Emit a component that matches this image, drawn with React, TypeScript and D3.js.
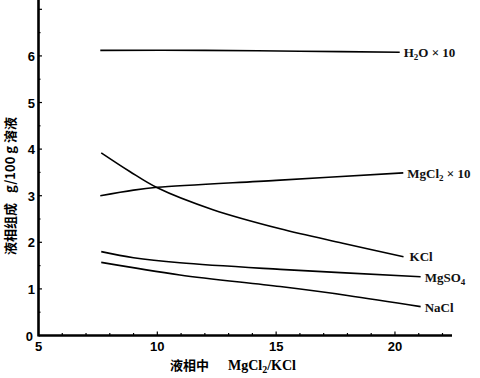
import React from "react";
import * as d3 from "d3";

const xTicks = [5, 10, 15, 20];
const yTicks = [0, 1, 2, 3, 4, 5, 6];

const h2oX = [7.6, 12, 16, 20.2];
const h2oY = [6.12, 6.12, 6.1, 6.08];

const mgcl2X = [7.6, 9, 10, 15, 20.35];
const mgcl2Y = [3.0, 3.12, 3.18, 3.33, 3.49];

const kclX = [7.64, 8.84, 10, 12.34, 15.17, 17.8, 20.36];
const kclY = [3.92, 3.52, 3.17, 2.7, 2.29, 1.98, 1.69];

const mgso4X = [7.64, 9, 10.95, 15.17, 21.08];
const mgso4Y = [1.8, 1.67, 1.56, 1.42, 1.26];

const naclX = [7.64, 10.95, 15.17, 18, 21.08];
const naclY = [1.57, 1.3, 1.05, 0.86, 0.62];

const series = [
  { xs: h2oX, ys: h2oY },
  { xs: mgcl2X, ys: mgcl2Y },
  { xs: kclX, ys: kclY },
  { xs: mgso4X, ys: mgso4Y },
  { xs: naclX, ys: naclY },
];

export default function App() {
  const W = 480, H = 378;
  const x = d3.scaleLinear().domain([5, 22.4]).range([38.5, 452]);
  const y = d3.scaleLinear().domain([0, 7.2]).range([335.5, 0]);
  const line = d3
    .line<[number, number]>()
    .x((d) => x(d[0]))
    .y((d) => y(d[1]))
    .curve(d3.curveCatmullRom.alpha(0.5));

  const minorX = d3.range(6, 23, 1);
  const minorY = d3.range(0.5, 7.1, 0.5);
  const tickFont = "'Liberation Sans', Arial, sans-serif";
  const serif = "'Liberation Serif', 'DejaVu Serif', serif";
  const cjk = "'Noto Sans CJK SC', sans-serif";

  const labelY = (v: number) => y(v);

  return (
    <div style={{ position: "absolute", left: 0, top: 0 }}>
      <svg width={W} height={H} style={{ display: "block", background: "#fff" }}>
        {/* axes */}
        <line x1={x(5)} x2={x(22.4)} y1={y(0)} y2={y(0)} stroke="#000" strokeWidth={2.6} />
        <line x1={x(5)} x2={x(5)} y1={y(0) + 1} y2={0} stroke="#000" strokeWidth={2.6} />
        {minorX.map((v) => (
          <line key={"mx" + v} x1={x(v)} x2={x(v)} y1={y(0)} y2={y(0) - (v % 5 === 0 ? 4 : 2.5)} stroke="#000" strokeWidth={1.2} />
        ))}
        {minorY.map((v) => (
          <line key={"my" + v} x1={x(5)} x2={x(5) + (Number.isInteger(v) ? 3.5 : 2)} y1={y(v)} y2={y(v)} stroke="#000" strokeWidth={1.2} />
        ))}
        {xTicks.map((v) => (
          <text key={"xt" + v} x={x(v)} y={351} textAnchor="middle" fontFamily={tickFont} fontWeight="bold" fontSize={13}>
            {v}
          </text>
        ))}
        {yTicks.map((v) => (
          <text key={"yt" + v} x={v === 0 ? 33 : 35} y={y(v) + 5} textAnchor="end" fontFamily={tickFont} fontWeight="bold" fontSize={13}>
            {v}
          </text>
        ))}
        {/* series */}
        {series.map((s, i) => (
          <path
            key={"s" + i}
            d={line(s.xs.map((xv, j) => [xv, s.ys[j]] as [number, number])) || ""}
            fill="none"
            stroke="#000"
            strokeWidth={1.6}
          />
        ))}
        {/* series labels */}
        <g fontFamily={serif} fontSize={13} fontWeight="bold" fill="#111">
          <text x={x(20.2) + 4} y={labelY(6.08) + 5}>
            H<tspan fontSize={9} dy={3}>2</tspan><tspan dy={-3}>O × 10</tspan>
          </text>
          <text x={x(20.35) + 4} y={labelY(3.49) + 5}>
            MgCl<tspan fontSize={9} dy={3}>2</tspan><tspan dy={-3}> × 10</tspan>
          </text>
          <text x={x(20.36) + 6} y={labelY(1.69) + 4}>KCl</text>
          <text x={x(21.08) + 4} y={labelY(1.26) + 5}>
            MgSO<tspan fontSize={9} dy={3}>4</tspan>
          </text>
          <text x={x(21.08) + 4} y={labelY(0.62) + 5}>NaCl</text>
        </g>
        {/* axis titles */}
        <text x={170} y={370} fontFamily={cjk} fontWeight="bold" fontSize={13}>
          液相中
        </text>
        <text x={228} y={370} fontFamily={serif} fontWeight="bold" fontSize={14}>
          MgCl<tspan fontSize={10} dy={3}>2</tspan><tspan dy={-3}>/KCl</tspan>
        </text>
        <text
          transform={`translate(15, 186) rotate(-90)`}
          textAnchor="middle"
          fontFamily={cjk}
          fontWeight="bold"
          fontSize={13}
        >
          液相组成<tspan dx={10}>g/100 g 溶液</tspan>
        </text>
      </svg>
    </div>
  );
}
